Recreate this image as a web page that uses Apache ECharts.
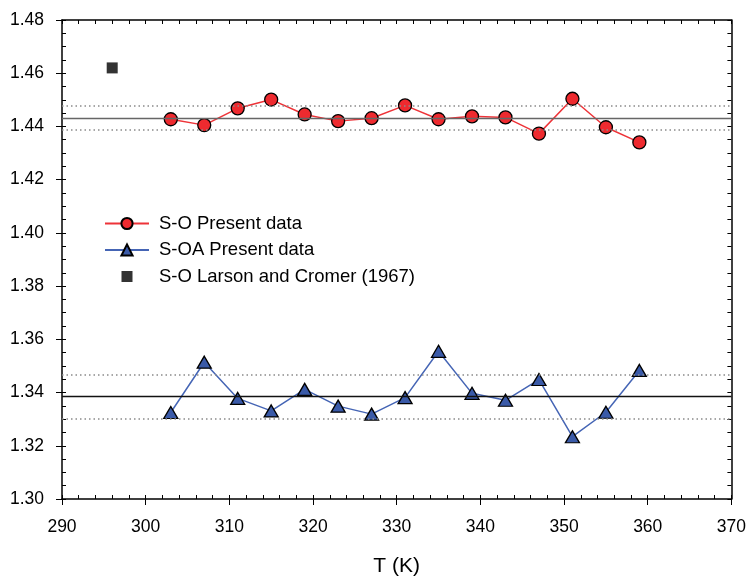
<!DOCTYPE html>
<html><head><meta charset="utf-8">
<script src="https://cdn.jsdelivr.net/npm/echarts@6/dist/echarts.min.js"></script>
<style>html,body{margin:0;padding:0;background:#fff}#c{width:749px;height:582px}</style>
</head><body><div id="c"></div>
<script>
const temps = [303,307,311,315,319,323,327,331,335,339,343,347,351,355,359];
const soPresent = [1.4427,1.4405,1.4468,1.4501,1.4445,1.4420,1.4431,1.4479,1.4427,1.4438,1.4434,1.4373,1.4504,1.4397,1.4340];
const soaPresent = [1.3325,1.3514,1.3378,1.3331,1.3412,1.3349,1.3319,1.3381,1.3555,1.3397,1.3371,1.3449,1.3234,1.3326,1.3483];
const larsonT = [296];
const larsonV = [1.462];
const soMean = 1.4430, soLow = 1.4386, soHigh = 1.4476;
const soaMean = 1.3385, soaLow = 1.3303, soaHigh = 1.3468;
const seriesNames = ['S-O Present data','S-OA Present data','S-O Larson and Cromer (1967)'];
const xName = 'T (K)';

const FONT = 'Liberation Sans, Arial, sans-serif';
const chart = echarts.init(document.getElementById('c'));
const grid = {left:62, top:20, right:12, bottom:80};
function bands(mean, lo, hi, meanColor){
  return {
    silent:true, symbol:'none', label:{show:false}, animation:false, precision:6,
    data:[
      {yAxis:mean, lineStyle:{type:'solid', color:meanColor, width:1.3}},
      {yAxis:lo, lineStyle:{type:[1.5,3], color:'#8a8a8a', width:1.5}},
      {yAxis:hi, lineStyle:{type:[1.5,3], color:'#8a8a8a', width:1.5}}
    ]
  };
}
const squareIcon = 'path://M0,6.5h0.01M16.5,1h11v11h-11zM43.99,6.5h0.01';
const xBase = {type:'value', min:290, max:370, splitLine:{show:false}};
const yBase = {type:'value', min:1.30, max:1.48, splitLine:{show:false}};
chart.setOption({
  animation:false,
  backgroundColor:'#fff',
  grid:grid,
  legend:{
    orient:'vertical', left:104, top:214, padding:0, itemGap:7.5, itemWidth:44, itemHeight:14,
    data:[{name:seriesNames[0]},{name:seriesNames[1]},{name:seriesNames[2], icon:squareIcon}],
    textStyle:{fontFamily:FONT, fontSize:18.5, lineHeight:18, color:'#000', padding:[0,0,0,5]}
  },
  xAxis:[
    Object.assign({}, xBase, {position:'bottom', interval:10,
      axisLine:{show:true, lineStyle:{color:'#000', width:1.5}},
      axisTick:{show:true, inside:false, length:6, lineStyle:{color:'#000'}},
      axisLabel:{fontFamily:FONT, fontSize:17.5, color:'#000', margin:19},
      name:xName, nameLocation:'middle', nameGap:57,
      nameTextStyle:{fontFamily:FONT, fontSize:21, color:'#000'}}),
    Object.assign({}, xBase, {position:'bottom', interval:2,
      axisLine:{show:false}, axisTick:{show:true, inside:true, length:4, lineStyle:{color:'#000'}},
      axisLabel:{show:false}}),
    Object.assign({}, xBase, {position:'top', interval:2,
      axisLine:{show:true, lineStyle:{color:'#000', width:1.5}},
      axisTick:{show:true, inside:true, length:4, lineStyle:{color:'#000'}},
      axisLabel:{show:false}})
  ],
  yAxis:[
    Object.assign({}, yBase, {position:'left', interval:0.02,
      axisLine:{show:true, lineStyle:{color:'#000', width:1.5}},
      axisTick:{show:true, inside:false, length:6, lineStyle:{color:'#000'}},
      axisLabel:{fontFamily:FONT, fontSize:17.5, color:'#000', margin:18, formatter:v=>v.toFixed(2)}}),
    Object.assign({}, yBase, {position:'left', interval:0.005,
      axisLine:{show:false}, axisTick:{show:true, inside:true, length:4, lineStyle:{color:'#000'}},
      axisLabel:{show:false}}),
    Object.assign({}, yBase, {position:'right', interval:0.005,
      axisLine:{show:true, lineStyle:{color:'#000', width:1.5}},
      axisTick:{show:true, inside:true, length:4, lineStyle:{color:'#000'}},
      axisLabel:{show:false}})
  ],
  series:[
    {name:seriesNames[0], type:'line', xAxisIndex:0, yAxisIndex:0,
     data:temps.map((t,i)=>[t, soPresent[i]]),
     symbol:'circle', symbolSize:13,
     lineStyle:{color:'#ee3338', width:1.5},
     itemStyle:{color:'#ee2a2f', borderColor:'#000', borderWidth:1.3},
     markLine:bands(soMean, soLow, soHigh, '#666'), z:3},
    {name:seriesNames[1], type:'line', xAxisIndex:0, yAxisIndex:0,
     data:temps.map((t,i)=>[t, soaPresent[i]]),
     symbol:'triangle', symbolSize:[14,12],
     lineStyle:{color:'#4565b5', width:1.5},
     itemStyle:{color:'#3a5aa8', borderColor:'#000', borderWidth:1.3},
     markLine:bands(soaMean, soaLow, soaHigh, '#111'), z:3},
    {name:seriesNames[2], type:'scatter', xAxisIndex:0, yAxisIndex:0,
     data:larsonT.map((t,i)=>[t, larsonV[i]]),
     symbol:'rect', symbolSize:11,
     itemStyle:{color:'#000'}, z:3}
  ]
});
</script></body></html>
